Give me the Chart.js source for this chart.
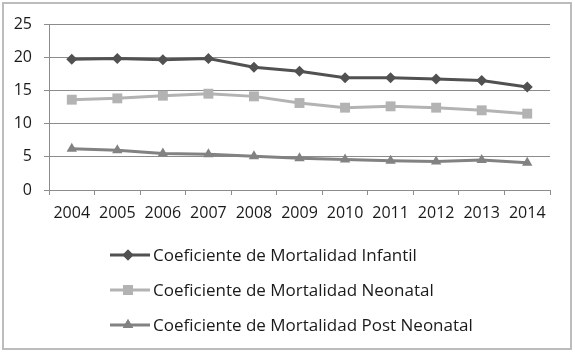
<!DOCTYPE html>
<html>
<head>
<meta charset="utf-8">
<script src="https://cdn.jsdelivr.net/npm/chart.js@4"></script>
<style>
  html, body { margin: 0; padding: 0; background: #fff; }
  #wrap { position: relative; width: 575px; height: 353px; }
  #wrap:after { content: ''; position: absolute; left: 2px; top: 2px; right: 3px; bottom: 3px; border: 2px solid #bcbcbc; pointer-events: none; }
</style>
</head>
<body>
<div id="wrap"><canvas id="chart" width="575" height="353"></canvas></div>
<script>
// Mortality coefficients per year
const years = ['2004', '2005', '2006', '2007', '2008', '2009', '2010', '2011', '2012', '2013', '2014'];
const infantil = [19.7, 19.8, 19.6, 19.8, 18.5, 17.9, 16.9, 16.9, 16.7, 16.5, 15.5];
const neonatal = [13.6, 13.8, 14.2, 14.5, 14.1, 13.1, 12.4, 12.6, 12.4, 12.0, 11.5];
const postNeonatal = [6.2, 6.0, 5.5, 5.4, 5.1, 4.8, 4.6, 4.4, 4.3, 4.5, 4.1];
const yTicks = [0, 5, 10, 15, 20, 25];

const seriesNames = [
    'Coeficiente de Mortalidad Infantil',
    'Coeficiente de Mortalidad Neonatal',
    'Coeficiente de Mortalidad Post Neonatal'
];

const FONT = '"Open Sans", "Liberation Sans", sans-serif';

// Legend stacked on the left, like the spreadsheet original
const sideLegend = {
    id: 'sideLegend',
    afterDraw(chart) {
        const ctx = chart.ctx;
        const rows = [255, 290, 325];
        chart.data.datasets.forEach((ds, i) => {
            const y = rows[i];
            ctx.save();
            ctx.strokeStyle = ds.borderColor;
            ctx.lineWidth = 3;
            ctx.beginPath();
            ctx.moveTo(110, y);
            ctx.lineTo(150, y);
            ctx.stroke();
            ctx.fillStyle = ds.pointBackgroundColor;
            Chart.helpers.drawPoint(ctx, {
                pointStyle: ds.pointStyle,
                radius: ds.pointRadius,
                borderWidth: 0
            }, 128, y);
            ctx.fill();
            ctx.fillStyle = '#1a1a1a';
            ctx.font = '17px ' + FONT;
            ctx.textBaseline = 'middle';
            ctx.fillText(ds.label, 153, y + 1);
            ctx.restore();
        });
    }
};

function makeSet(label, data, color, style, radius) {
    return {
        label: label,
        data: data,
        borderColor: color,
        backgroundColor: color,
        pointBackgroundColor: color,
        pointBorderColor: color,
        pointBorderWidth: 0,
        pointStyle: style,
        pointRadius: radius,
        pointHoverRadius: radius,
        borderWidth: 3,
        tension: 0
    };
}

new Chart(document.getElementById('chart'), {
    type: 'line',
    data: {
        labels: years,
        datasets: [
            makeSet(seriesNames[0], infantil, '#515151', 'rectRot', 5.5),
            makeSet(seriesNames[1], neonatal, '#b3b3b3', 'rect', 7),
            makeSet(seriesNames[2], postNeonatal, '#828282', 'triangle', 6)
        ]
    },
    options: {
        responsive: false,
        animation: false,
        layout: { padding: { left: 0, right: 25, top: 24, bottom: 0 } },
        plugins: {
            legend: { display: false },
            tooltip: { enabled: false }
        },
        scales: {
            x: {
                offset: true,
                afterFit: (axis) => { axis.height = 163; },
                grid: {
                    offset: true,
                    drawOnChartArea: false,
                    drawTicks: true,
                    tickLength: 5,
                    color: '#8c8c8c'
                },
                border: { color: '#8c8c8c', width: 1 },
                ticks: {
                    color: '#1a1a1a',
                    font: { family: FONT, size: 16 },
                    padding: 9,
                    maxRotation: 0,
                    autoSkip: false
                }
            },
            y: {
                min: 0,
                max: 25,
                afterFit: (axis) => { axis.width = 49; },
                afterBuildTicks: (axis) => { axis.ticks = yTicks.map(v => ({ value: v })); },
                grid: {
                    color: '#8c8c8c',
                    tickLength: 5
                },
                border: { color: '#8c8c8c', width: 1 },
                ticks: {
                    color: '#1a1a1a',
                    font: { family: FONT, size: 16 },
                    padding: 12
                }
            }
        }
    },
    plugins: [sideLegend]
});
</script>
</body>
</html>
